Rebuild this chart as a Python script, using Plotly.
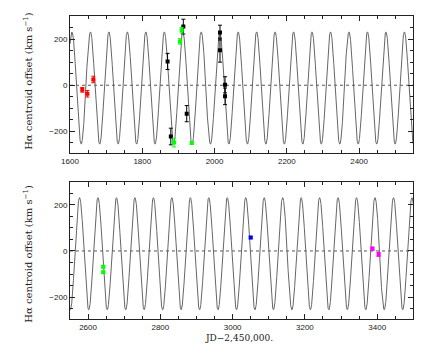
"""
H-alpha centroid offsets vs JD with the orbital model curve.
"""

import numpy as np
import plotly.graph_objects as go
from plotly.subplots import make_subplots

# model parameters
period = 51.1
t_peak = 1912.0
gamma = -12.0
k_amp = 243.0

# panel 1 observations
red_jd = [1634, 1648, 1664.5]
red_v = [-20, -37, 25]
red_err = [10, 14, 14]

black_jd = [1870, 1879, 1913.6, 1923, 2015, 2015, 2029, 2029]
black_v = [103, -222, 254, -123, 228, 152, 2, -48]
black_err = [35, 36, 32, 35, 32, 52, 35, 36]

green1_jd = [1888, 1904.5, 1909, 1937]
green1_v = [-248, 190, 238, -250]
green1_err = [19, 12, 12, 5]

# panel 2 observations
green2_jd = [2642, 2642]
green2_v = [-69, -92]
green2_err = [5, 5]

blue_jd = [3050]
blue_v = [58]
blue_err = [5]

magenta_jd = [3387, 3404]
magenta_v = [10, -15]
magenta_err = [7, 8]

range_top = [1600, 2550]
range_bot = [2550, 3500]
v_range = [-295, 300]

fig = make_subplots(rows=2, cols=1)


def model(t):
    return gamma + k_amp * np.cos(2 * np.pi * (t - t_peak) / period)


def add_points(jd, v, err, color, row):
    fig.add_trace(go.Scatter(
        x=jd, y=v, mode="markers",
        marker=dict(symbol="square", size=4, color=color),
        error_y=dict(type="data", array=err, width=2, thickness=1, color=color),
        showlegend=False), row=row, col=1)


for row, xr in [(1, range_top), (2, range_bot)]:
    t = np.linspace(xr[0], xr[1], 3000)
    fig.add_trace(go.Scatter(x=t, y=model(t), mode="lines",
                             line=dict(color="#666666", width=1),
                             showlegend=False, hoverinfo="skip"), row=row, col=1)

add_points(red_jd, red_v, red_err, "#ff0000", 1)
add_points(black_jd, black_v, black_err, "#000000", 1)
add_points(green1_jd, green1_v, green1_err, "#00ff00", 1)
add_points(green2_jd, green2_v, green2_err, "#00ff00", 2)
add_points(blue_jd, blue_v, blue_err, "#0000ff", 2)
add_points(magenta_jd, magenta_v, magenta_err, "#ff00ff", 2)

axis_style = dict(showline=True, linecolor="#222222", linewidth=1, mirror="ticks",
                  ticks="inside", ticklen=5, tickcolor="#222222", showgrid=False,
                  zeroline=False, automargin=False,
                  tickfont=dict(family="Liberation Sans, sans-serif", size=8, color="#222222"))
minor_ticks = dict(dtick=50, ticklen=3, ticks="inside", tickcolor="#222222")

fig.update_xaxes(**axis_style)
fig.update_yaxes(**axis_style)

fig.update_xaxes(range=range_top, dtick=200, domain=[0.158, 0.933], minor=minor_ticks, row=1, col=1)
fig.update_xaxes(range=range_bot, dtick=200, domain=[0.158, 0.933], minor=minor_ticks, row=2, col=1)
fig.update_yaxes(range=v_range, dtick=200, minor=minor_ticks)
fig.update_yaxes(domain=[0.568, 0.955], row=1, col=1)
fig.update_yaxes(domain=[0.1014, 0.488], row=2, col=1)

for xref, yref in [("x domain", "y"), ("x2 domain", "y2")]:
    fig.add_shape(type="line", xref=xref, yref=yref, x0=0, x1=1, y0=0, y1=0,
                  line=dict(color="#555555", width=1, dash="dot"), layer="below")

# axis titles placed as annotations for exact positioning
title_font = dict(family="DejaVu Serif, serif", size=10, color="#222222")
ytitle = "H\u03b1 centroid offset (km s<sup>\u22121</sup>)"
for ypos in [0.772, 0.285]:
    fig.add_annotation(text=ytitle, xref="paper", yref="paper", x=0.063, y=ypos,
                       textangle=-90, showarrow=False, font=title_font,
                       xanchor="center", yanchor="middle")
fig.add_annotation(text="JD\u22122,450,000.", xref="paper", yref="paper", x=0.54, y=0.048,
                   showarrow=False, font=dict(family="DejaVu Serif, serif", size=9, color="#222222"),
                   xanchor="center", yanchor="middle")

fig.update_layout(width=443, height=355, margin=dict(l=0, r=0, t=0, b=0),
                  plot_bgcolor="white", paper_bgcolor="white")

fig.write_html("out.html", config={"displayModeBar": False},
               post_script="document.body.style.margin='0';")
